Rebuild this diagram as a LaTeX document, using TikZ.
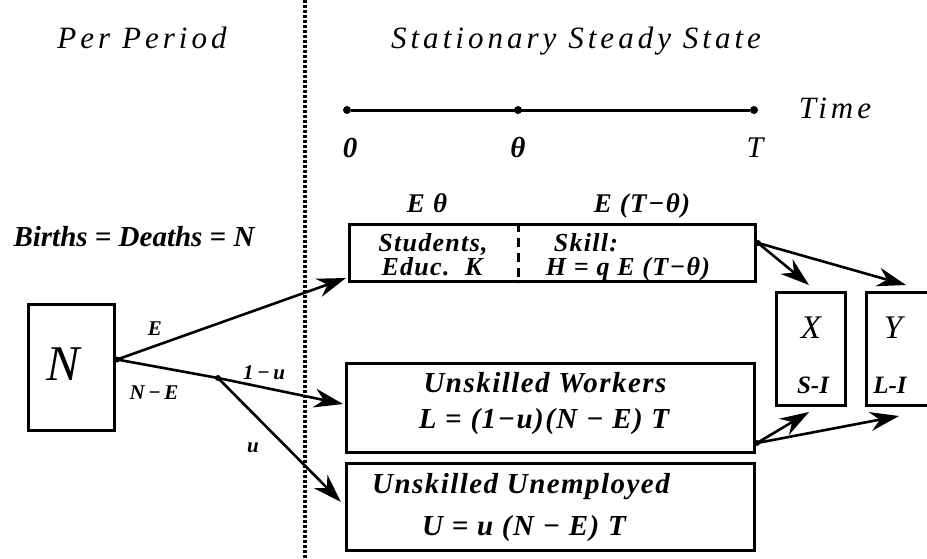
\documentclass[tikz,border=0pt]{standalone}
\usepackage{fontspec}
\setmainfont{Liberation Serif}
\newfontfamily\headfont[LetterSpace=13]{Liberation Serif}
\newfontfamily\boxfont[LetterSpace=5]{Liberation Serif}
\usepackage{tikz}
\usetikzlibrary{arrows.meta,positioning,calc}

\newcommand{\sz}[1]{\fontsize{#1}{#1}\selectfont}

\begin{document}
\begin{tikzpicture}[
                x=1pt, y=-1pt,
                box/.style={draw, line width=3pt, inner sep=0pt},
                head/.style={font=\headfont\itshape\sz{31}, anchor=base, inner sep=0pt},
                txt/.style={font=\boxfont\bfseries\itshape\sz{29}, anchor=base, inner sep=0pt},
                inbox/.style={font=\boxfont\bfseries\itshape\sz{26}, anchor=base, inner sep=0pt},
                small/.style={font=\bfseries\itshape\sz{21}, anchor=base, inner sep=0pt},
                letter/.style={font=\itshape\sz{33}, anchor=base, inner sep=0pt},
                tick/.style={circle, fill, inner sep=0pt, minimum size=8pt},
                knot/.style={circle, fill, inner sep=0pt, minimum size=6pt},
                flow/.style={line width=2.6pt, -{Stealth[length=29pt,width=19pt]}}
            ]
            \clip (0,0) rectangle (927,558);
            % divider
            \draw[line width=3.5pt, dash pattern=on 3pt off 2pt] (305,0) -- (305,558);
            \node[head] (per) at (142,48) {Per Period};
            \node[head] (sss) at (576,48) {Stationary Steady State};
            % time axis
            \node[tick] (t0) at (347,110) {};
            \node[tick] (tth) at (518,110) {};
            \node[tick] (tT) at (754,110) {};
            \draw[line width=3pt] (t0) -- (tT);
            \node[head] (time) at (835,118) {Time};
            \node[txt] (l0) at (350,157) {0};
            \node[txt] (lth) at (518,157) {θ};
            \node[txt, font=\itshape\sz{30}] (lT) at (755,157) {T};
            % boxes
            \node[box, minimum width=86, minimum height=126, anchor=north west] (nbox) at (27,303) {};
            \node[letter, font=\itshape\sz{50}] (nlab) at (63,380) {N};
            \node[small, font=\bfseries\itshape\sz{29}] (births) at (134,246) {Births = Deaths = N};
            \node[box, minimum width=406, minimum height=57, anchor=north west] (stud) at (348,223) {};
            \draw[line width=3pt, dash pattern=on 9pt off 6pt] (tth |- stud.north) -- (tth |- stud.south);
            \node[txt, font=\boxfont\bfseries\itshape\sz{27}] (eth) at (427,212) {E θ};
            \node[txt, font=\boxfont\bfseries\itshape\sz{27}] (etth) at (642,212) {E (T−θ)};
            \node[inbox] (students) at (433,251) {Students,};
            \node[inbox] (educ) at (432,275) {Educ.~~K};
            \node[inbox] (skill) at (586,251) {Skill:};
            \node[inbox] (hcap) at (628,275) {H = q E (T−θ)};
            \node[box, minimum width=408, minimum height=89, anchor=north west] (work) at (345,362) {};
            \node[txt] (workers) at (545,392) {Unskilled Workers};
            \node[txt] (lcap) at (544,428) {L = (1−u)(N − E) T};
            \node[box, minimum width=408, minimum height=87, anchor=north west] (unemp) at (345,462) {};
            \node[txt] (unemployed) at (521,493) {Unskilled Unemployed};
            \node[txt] (ucap) at (524,535) {U = u (N − E) T};
            \node[box, minimum width=69, minimum height=113, anchor=north west] (xbox) at (775,291) {};
            \node[letter] (xlab) at (811,338) {X};
            \node[small, font=\bfseries\itshape\sz{25}] (si) at (813,393) {S-I};
            \node[box, minimum width=69, minimum height=113, anchor=north west] (ybox) at (865,291) {};
            \node[letter] (ylab) at (893,338) {Y};
            \node[small, font=\bfseries\itshape\sz{25}] (li) at (890,393) {L-I};
            % flows
            \node[knot] (nout) at ($(nbox.east)+(1,-8)$) {};
            \node[knot] (split) at (218,378) {};
            \draw[line width=2.6pt] (nout.center) -- (split.center);
            \draw[flow] (nout.center) -- ($(stud.south west)+(-2,-5)$);
            \draw[flow] (split.center) -- ($(work.west)+(-2,-4)$);
            \draw[flow] (split.center) -- ($(unemp.west)+(-4,-5)$);
            \node[small] (le) at (155,335) {E};
            \node[small] (lne) at (154,399) {N\,−\,E};
            \node[small] (lu1) at (264,379) {1\,−\,u};
            \node[small] (lu) at (253,452) {u};
            \node[knot] (sout) at ($(stud.north east)+(1,20)$) {};
            \node[knot] (wout) at ($(work.south east)+(1,-11)$) {};
            \draw[flow] (sout.center) -- ($(xbox.north)+(-2,-6)$);
            \draw[flow] (sout.center) -- ($(ybox.north)+(5,-6)$);
            \draw[flow] (wout.center) -- ($(xbox.south)+(-2,5)$);
            \draw[flow] (wout.center) -- ($(ybox.south)+(-2,9)$);
\end{tikzpicture}
\end{document}
